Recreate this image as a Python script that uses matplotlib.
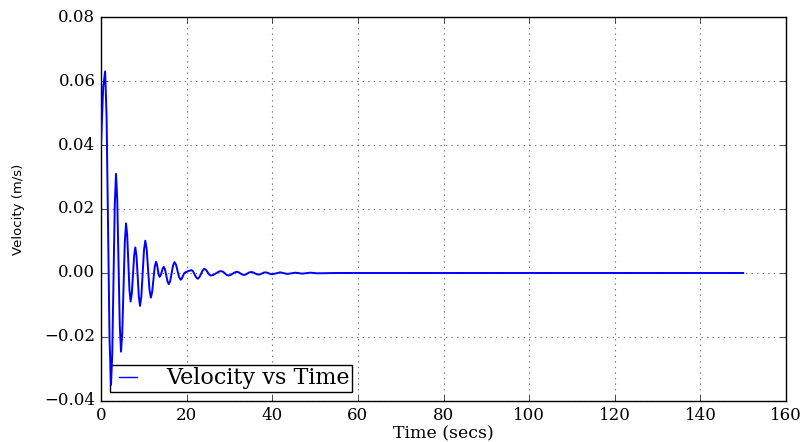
import numpy as np
import matplotlib
matplotlib.use('Agg')
import matplotlib.pyplot as plt

# velocity curve (peaks, troughs and the flanks around them)
time = [0.0, 0.5, 0.96, 1.30, 1.99, 2.33, 2.62, 3.21, 3.50, 3.79, 4.38, 4.67,
        4.96, 5.55, 5.84, 6.11, 6.64, 6.91, 7.19, 7.74, 8.01, 8.29, 8.84, 9.11,
        9.42, 10.03, 10.34, 10.66, 11.31, 11.63, 11.93, 12.54, 12.84, 13.05,
        13.47, 13.68, 13.93, 14.42, 14.66, 14.95, 15.54, 15.83, 16.16, 16.83,
        17.16, 17.52, 18.23, 18.59, 18.86, 19.41, 19.68, 20.4, 21.13, 21.50,
        22.23, 22.60, 22.98, 23.74, 24.12, 24.51, 25.29, 25.68, 26.27, 27.45,
        28.04, 28.48, 29.35, 29.79, 30.28, 31.26, 31.75, 32.14, 32.90, 33.29,
        33.74, 34.64, 35.09, 35.52, 36.37, 36.80, 37.19, 37.97, 38.36, 38.77,
        39.59, 40.0, 41.86, 43.5, 45.4, 47.0, 48.9, 50.5, 55.0, 150.0]
velocity = [0.040, 0.058, 0.0630, 0.0487, -0.0207, -0.0350, -0.0254, 0.0214,
            0.0310, 0.0229, -0.0165, -0.0246, -0.0187, 0.0096, 0.0155, 0.0119,
            -0.0053, -0.0089, -0.0064, 0.0055, 0.0080, 0.0053, -0.0076, -0.0103,
            -0.0073, 0.0071, 0.0101, 0.0075, -0.0051, -0.0077, -0.0061, 0.0019,
            0.0035, 0.0028, -0.0005, -0.0012, -0.0007, 0.0014, 0.0019, 0.0011,
            -0.0027, -0.0035, -0.0025, 0.0024, 0.0034, 0.0026, -0.0013, -0.0021,
            -0.0018, -0.0001, 0.0002, 0.0006, 0.0009, 0.0005, -0.0014, -0.0018,
            -0.0013, 0.0008, 0.0013, 0.0010, -0.0005, -0.0008, -0.0006, 0.0004,
            0.0006, 0.0004, -0.0006, -0.0008, -0.0006, 0.0002, 0.0004, 0.0002,
            -0.0004, -0.0006, -0.0005, 0.0002, 0.0003, 0.0002, -0.0004, -0.0005,
            -0.0004, 0.0001, 0.0002, 0.0001, -0.0003, -0.0004, 0.0002, -0.0003,
            0.0001, -0.0002, 0.0001, -0.0001, 0.0, 0.0]

xticks = [0, 20, 40, 60, 80, 100, 120, 140, 160]
yticks = [-0.04, -0.02, 0.00, 0.02, 0.04, 0.06, 0.08]

plt.style.use('classic')
plt.rcParams['font.family'] = 'DejaVu Serif'

fig = plt.figure(figsize=(8.05, 4.42), dpi=100, facecolor='white')
ax = fig.add_axes([0.1255, 0.0928, 0.8509, 0.8687])
ax.plot(time, velocity, color='#0000ff', linewidth=1.4, label='Velocity vs Time',
        zorder=3)

ax.set_xlim(0, 160)
ax.set_ylim(-0.04, 0.08)
ax.set_xticks(xticks)
ax.set_yticks(yticks)
ax.set_yticklabels(['%.2f' % v if v >= 0 else '\u2212%.2f' % -v for v in yticks])
ax.tick_params(labelsize=12, direction='in', top=True, right=True)
ax.set_axisbelow(True)
ax.grid(True, linestyle=':', color='0.45', linewidth=0.8)

ax.set_xlabel('Time (secs)', fontsize=12.5, labelpad=1)
ax.set_ylabel('Velocity (m/s)', fontsize=9.5, family='DejaVu Sans', labelpad=14)

leg = ax.legend(loc='lower left', fontsize=16, fancybox=False, borderaxespad=0.4,
                handlelength=1.4, handletextpad=1.0, borderpad=0.12, framealpha=1)
leg.set_zorder(2)
for h in leg.get_lines():
    h.set_linewidth(1.0)

fig.savefig('out.png', dpi=100, facecolor='white')
